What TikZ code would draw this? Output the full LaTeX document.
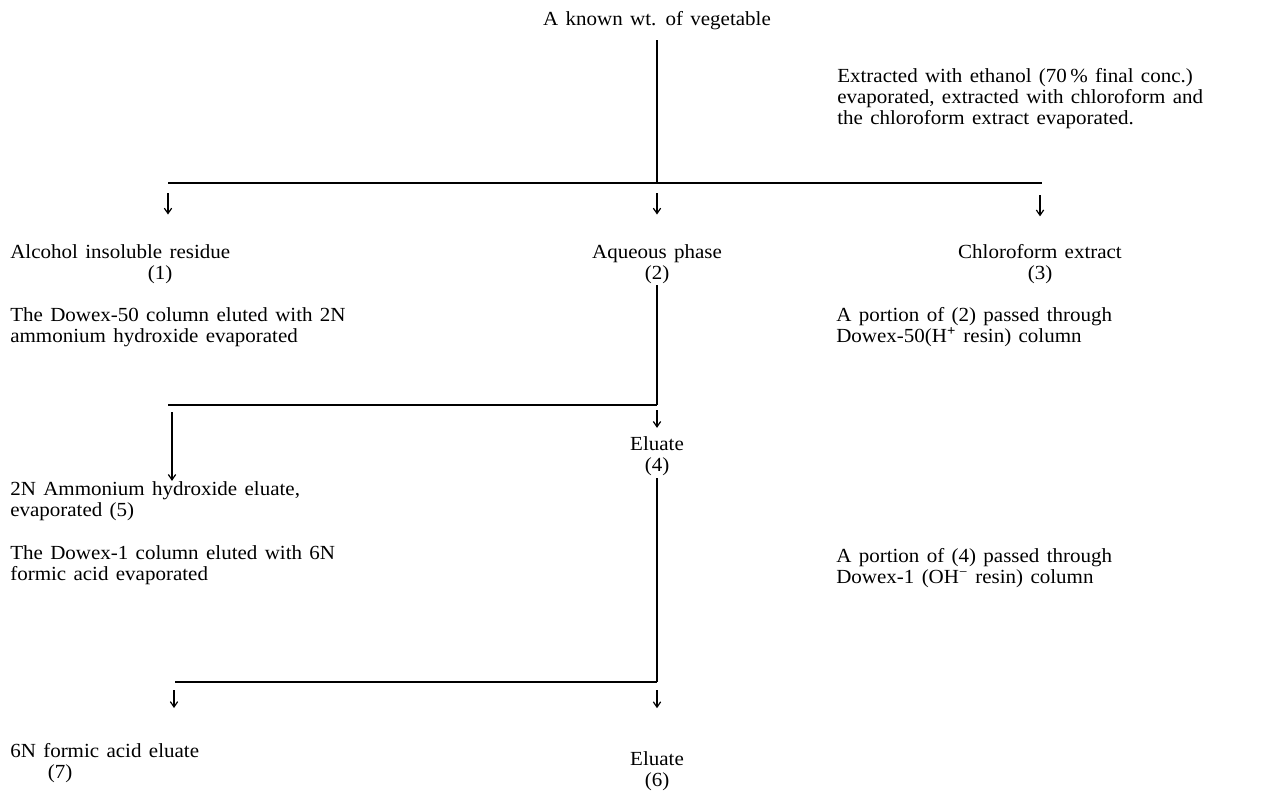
\documentclass[tikz,border=0pt]{standalone}
\usepackage{fontspec}
\setmainfont[WordSpace=1.4,FakeStretch=1.05]{Liberation Serif}
\usetikzlibrary{arrows.meta}
\begin{document}
\begin{tikzpicture}[x=0.75pt,y=-0.75pt,
  txt/.style={inner sep=0pt,font=\fontsize{15}{15.75}\selectfont,align=left},
  ctr/.style={inner sep=0pt,font=\fontsize{15}{15.75}\selectfont,align=center},
  ln/.style={line width=0.9pt},
  arr/.style={line width=0.9pt,-{Straight Barb[length=4pt,width=5.5pt]}}]
\useasboundingbox (0,0) rectangle (1266,790);
% nodes (multi-line nodes are placed by the baseline of their last line)
\node[ctr,anchor=base] (veg) at (657,25) {A known wt. of vegetable};
\node[txt,anchor=base west] (ext) at (837,124) {Extracted with ethanol (70\,\% final conc.)\\evaporated, extracted with chloroform and\\the chloroform extract evaporated.};
\node[txt,anchor=base west] (air) at (10,258) {Alcohol insoluble residue};
\node[ctr,anchor=base] (airn) at (160,279) {(1)};
\node[ctr,anchor=base] (aq) at (657,279) {Aqueous phase\\(2)};
\node[ctr,anchor=base] (chl) at (1040,279) {Chloroform extract\\(3)};
\node[txt,anchor=base west] (d50a) at (10,342) {The Dowex-50 column eluted with 2N\\ammonium hydroxide evaporated};
\node[txt,anchor=base west] (d50b) at (836,342) {A portion of (2) passed through\\Dowex-50(H\textsuperscript{\textbf{+}} resin) column};
\node[ctr,anchor=base] (el4) at (657,471) {Eluate\\(4)};
\node[txt,anchor=base west] (am5) at (10,516) {2N Ammonium hydroxide eluate,\\evaporated (5)};
\node[txt,anchor=base west] (d1a) at (10,580) {The Dowex-1 column eluted with 6N\\formic acid evaporated};
\node[txt,anchor=base west] (d1b) at (836,583) {A portion of (4) passed through\\Dowex-1 (OH\textsuperscript{−} resin) column};
\node[txt,anchor=base west] (fa7) at (10,757) {6N formic acid eluate};
\node[ctr,anchor=base] (fa7n) at (60,778) {(7)};
\node[ctr,anchor=base] (el6) at (657,786) {Eluate\\(6)};
% junctions
\coordinate (j1) at (657,183);
\coordinate (j1l) at (168,183);
\coordinate (j1r) at (1042,183);
\coordinate (j2) at (657,405);
\coordinate (j2l) at (168,405);
\coordinate (j3) at (657,682);
\coordinate (j3l) at (175,682);
% connectors
\draw[ln] (veg.south |- 0,40) -- (j1);
\draw[ln] (j1l) -- (j1r);
\draw[arr,shorten >=22pt] (j1l |- 0,193) -- (air.north -| j1l);
\draw[arr,shorten >=22pt] (j1 |- 0,193) -- (aq.north);
\draw[arr,shorten >=20.5pt] (chl.north |- 0,195) -- (chl.north);
\draw[ln] (aq.south |- 0,285) -- (j2);
\draw[ln] (j2l) -- (j2);
\draw[arr,shorten >=6pt] (j2 |- 0,410) -- (el4.north);
\draw[arr] (172,412) -- (am5.north -| 172,0);
\draw[ln] (el4.south |- 0,478) -- (j3);
\draw[ln] (j3l) -- (j3);
\draw[arr,shorten >=26pt] (174,690) -- (fa7.north -| 174,0);
\draw[arr,shorten >=32pt] (j3 |- 0,690) -- (el6.north);
\end{tikzpicture}
\end{document}
